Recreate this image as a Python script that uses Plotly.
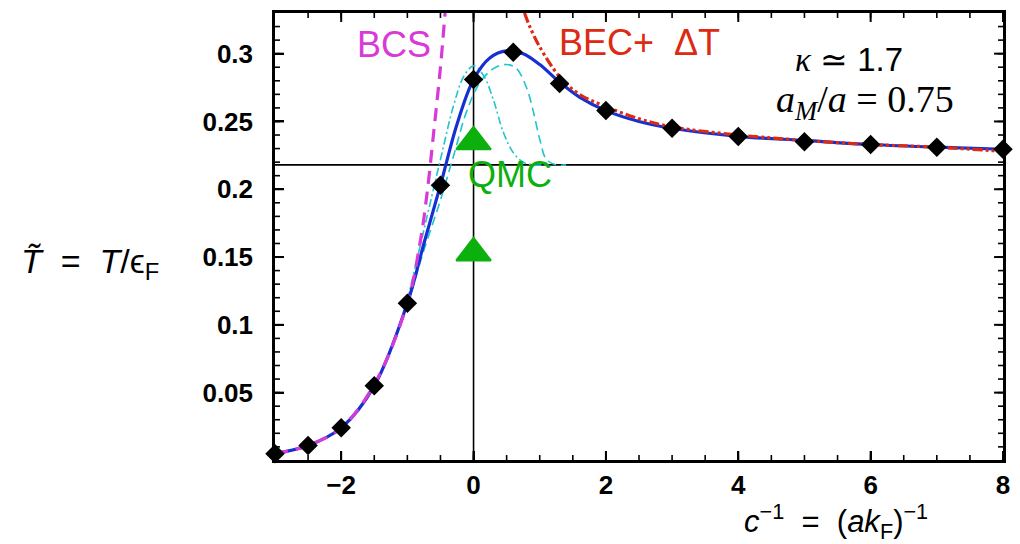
import plotly.graph_objects as go

# ---- data ----
diamond_x = [-3, -2.5, -2, -1.5, -1, -0.5, 0, 0.6, 1.3, 2, 3, 4, 5, 6, 7, 8]
diamond_y = [0.005, 0.011, 0.024, 0.055, 0.116, 0.203, 0.281, 0.301, 0.278,
             0.258, 0.245, 0.239, 0.235, 0.233, 0.231, 0.2295]

blue_x = [-3, -2.5, -2, -1.5, -1, -0.75, -0.5, -0.25, 0, 0.25, 0.5, 0.75, 1.0,
          1.3, 1.6, 2, 2.5, 3, 4, 5, 6, 7, 8]
blue_y = [0.005, 0.011, 0.024, 0.055, 0.116, 0.160, 0.203, 0.248, 0.281, 0.297,
          0.302, 0.300, 0.292, 0.279, 0.268, 0.258, 0.250, 0.245, 0.239, 0.236,
          0.233, 0.231, 0.2295]

bcs_x = [-3, -2.5, -2, -1.5, -1, -0.8, -0.7, -0.6, -0.5, -0.43]
bcs_y = [0.005, 0.011, 0.024, 0.056, 0.116, 0.163, 0.198, 0.243, 0.290, 0.330]

bec_x = [0.77, 0.85, 1.0, 1.3, 1.6, 2.0, 2.5, 3, 4, 5, 6, 7, 8]
bec_y = [0.330, 0.320, 0.305, 0.283, 0.270, 0.261, 0.252, 0.246, 0.240, 0.236,
         0.233, 0.231, 0.228]

cyanA_x = [-1.0, -0.75, -0.5, -0.3, -0.15, 0.0, 0.15, 0.3, 0.45, 0.6, 0.75, 0.9, 1.1]
cyanA_y = [0.118, 0.170, 0.222, 0.262, 0.283, 0.291, 0.284, 0.266, 0.242, 0.227,
           0.220, 0.218, 0.218]

cyanB_x = [-1.0, -0.75, -0.5, -0.3, -0.1, 0.1, 0.3, 0.5, 0.65, 0.8, 0.9, 1.0,
           1.1, 1.25, 1.4]
cyanB_y = [0.114, 0.155, 0.192, 0.225, 0.258, 0.279, 0.289, 0.292, 0.289, 0.275,
           0.258, 0.237, 0.222, 0.218, 0.218]

qmc_x = [0, 0]
qmc_y = [0.235, 0.153]

bec_tc = 0.218

x_range = [-3, 8]
y_range = [0.0003, 0.33]

x_major = [-2, 0, 2, 4, 6, 8]
x_minor = [v / 2 for v in range(-5, 16)]
y_major = [0.05, 0.1, 0.15, 0.2, 0.25, 0.3]
y_minor = [v / 100 for v in range(1, 33)]

# plot-area size in pixels (used only for tick lengths)
PW, PH = 733, 450

# ---- figure ----
fig = go.Figure()

fig.add_hline(y=bec_tc, line=dict(color="black", width=1.6), layer="below")
fig.add_vline(x=0, line=dict(color="black", width=1.6), layer="below")

fig.add_trace(go.Scatter(x=cyanA_x, y=cyanA_y, mode="lines", line_shape="spline",
                         line=dict(color="#20c4cc", width=1.6, dash="8px,3px,2px,3px")))
fig.add_trace(go.Scatter(x=cyanB_x, y=cyanB_y, mode="lines", line_shape="spline",
                         line=dict(color="#20c4cc", width=1.6, dash="9px,5px")))
fig.add_trace(go.Scatter(x=blue_x, y=blue_y, mode="lines", line_shape="spline",
                         line=dict(color="#1630d2", width=3.2)))
fig.add_trace(go.Scatter(x=bcs_x, y=bcs_y, mode="lines", line_shape="spline",
                         line=dict(color="#d83ad8", width=3.2, dash="13px,8px")))
fig.add_trace(go.Scatter(x=bec_x, y=bec_y, mode="lines", line_shape="spline",
                         line=dict(color="#dd2a12", width=3.2,
                                   dash="10px,3px,3px,3px,3px,3px")))
fig.add_trace(go.Scatter(x=diamond_x, y=diamond_y, mode="markers", cliponaxis=False,
                         marker=dict(symbol="diamond", size=15, color="black")))
fig.add_trace(go.Scatter(x=qmc_x, y=qmc_y, mode="markers", cliponaxis=False,
                         marker=dict(symbol="triangle-up", size=30, color="#0cb00c",
                                     line=dict(color="#0cb00c", width=2))))

# inside ticks on all four sides (drawn as axis-anchored shapes)
def add_ticks(vals, length, width, axis):
    for v in vals:
        if axis == "x":
            for y0, y1 in ((0, length / PH), (1 - length / PH, 1)):
                fig.add_shape(type="line", xref="x", yref="y domain", x0=v, x1=v,
                              y0=y0, y1=y1, line=dict(color="black", width=width))
        else:
            for x0, x1 in ((0, length / PW), (1 - length / PW, 1)):
                fig.add_shape(type="line", xref="x domain", yref="y", x0=x0, x1=x1,
                              y0=v, y1=v, line=dict(color="black", width=width))

add_ticks(x_minor, 5, 1.6, "x")
add_ticks(x_major, 9, 2, "x")
add_ticks(y_minor, 5, 1.6, "y")
add_ticks(y_major, 9, 2, "y")

sans = "Liberation Sans, Arial, sans-serif"
serif = "Liberation Serif, Times New Roman, serif"

ann = [
    dict(x=-1.2, y=0.3065, text="BCS", font=dict(family=sans, size=36, color="#d83ad8")),
    dict(x=2.5, y=0.308, text="BEC+&nbsp; \u0394T", font=dict(family=sans, size=36, color="#dd2a12")),
    dict(x=5.68, y=0.2955,
         text="<span style='font-family:Liberation Serif'><i>\u03ba</i></span> \u2243 1.7",
         font=dict(family=sans, size=33, color="black")),
    dict(x=5.92, y=0.264, text="<i>a<sub>M</sub></i>/<i>a</i> = 0.75",
         font=dict(family=serif, size=38, color="black")),
    dict(x=0.556, y=0.211, text="QMC", font=dict(family=sans, size=36, color="#0cb00c")),
    dict(xref="paper", yref="paper", x=-0.254, y=0.44,
         text="<i>T\u0303</i>&nbsp; = &nbsp;<i>T</i>/\u03f5<sub>F</sub>",
         font=dict(family=sans, size=34, color="black")),
    dict(xref="paper", yref="paper", x=0.77, y=-0.137,
         text="<i>c</i><sup>\u22121</sup>&nbsp; = &nbsp;(<i>ak</i><sub>F</sub>)<sup>\u22121</sup>",
         font=dict(family=sans, size=31, color="black")),
]
for a in ann:
    a.setdefault("xref", "x")
    a.setdefault("yref", "y")
    a["showarrow"] = False
    a["xanchor"] = "center"
    a["yanchor"] = "middle"
    fig.add_annotation(**a)

tickfont = dict(family="Liberation Sans, Arial", size=26, color="black", weight="bold")

fig.update_xaxes(range=x_range, tickmode="array", tickvals=x_major,
                 ticks="inside", ticklen=9, tickwidth=2, tickcolor="black",
                 showline=True, linecolor="black", linewidth=2.5, mirror=True,
                 showgrid=False, zeroline=False, tickfont=tickfont)
fig.update_yaxes(range=y_range, tickmode="array", tickvals=y_major,
                 ticks="inside", ticklen=9, tickwidth=2, tickcolor="black",
                 showline=True, linecolor="black", linewidth=2.5, mirror=True,
                 showgrid=False, zeroline=False, tickfont=tickfont, ticklabelstandoff=14)

fig.update_layout(width=1020, height=544, showlegend=False,
                  margin=dict(l=275, r=12, t=10, b=84),
                  paper_bgcolor="white", plot_bgcolor="white")

fig.write_html("out.html")
